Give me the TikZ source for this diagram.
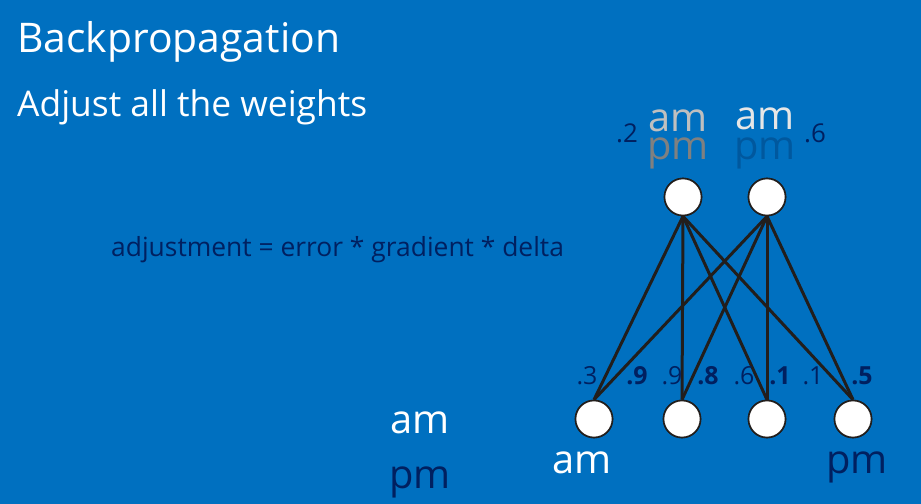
\documentclass[tikz,border=0pt]{standalone}
\usepackage{fontspec}
\setmainfont{Open Sans}
\usepackage{tikz}
\usetikzlibrary{positioning}
\definecolor{slideblue}{RGB}{0,112,192}
\definecolor{navy}{RGB}{0,32,96}
\definecolor{amgray}{RGB}{191,191,191}
\definecolor{pmgray}{RGB}{128,128,128}
\definecolor{amwhite}{RGB}{230,230,230}
\definecolor{pmblue}{RGB}{0,88,158}
\definecolor{edgegray}{RGB}{34,30,28}
\newcommand{\fsz}[1]{\fontsize{#1}{#1}\selectfont}

\begin{document}
\begin{tikzpicture}[
    x=1bp, y=-1bp,
    txt/.style={inner sep=0pt, anchor=base},
    neuron/.style={circle, draw=edgegray, line width=1.6bp, fill=white, minimum size=37bp, inner sep=0pt},
    wt/.style={txt, text=navy, font=\fsz{25}},
    wtb/.style={txt, text=navy, font=\fsz{25}\bfseries},
    ampm/.style={txt, font=\fsz{40}},
    link/.style={draw=edgegray, line width=3bp}
]
    \fill[slideblue] (0,0) rectangle (921,504);
    \useasboundingbox (0,0) rectangle (921,504);

    % headings
    \node (title) [txt, anchor=base west, text=white, font=\fsz{41}] at (17,53) {Backpropagation};
    \node (sub) [txt, anchor=base west, text=white, font=\fsz{35.5}] at (17,117) {Adjust all the weights};
    \node (rule) [txt, anchor=base west, text=navy, font=\fsz{26.5}] at (111,257) {adjustment = error * gradient * delta};

    % output layer
    \node (t1) [neuron] at (683,197) {};
    \node (t2) [neuron] at (767,197) {};
    \node (am1) [ampm, text=amgray] at (678,132) {am};
    \node (pm1) [ampm, text=pmgray] at (678,160) {pm};
    \node (am2) [ampm, text=amwhite] at (765,130) {am};
    \node (pm2) [ampm, text=pmblue] at (765,160) {pm};
    \node (w1) [txt, text=navy, font=\fsz{26}] at (627,143) {.2};
    \node (w2) [txt, text=navy, font=\fsz{26}] at (815,143) {.6};

    % input layer
    \node (b1) [neuron] at (594,419) {};
    \node (b2) [neuron] at (682,419) {};
    \node (b3) [neuron] at (767,419) {};
    \node (b4) [neuron] at (853,419) {};

    \foreach \t in {t1,t2}
        \foreach \b in {b1,b2,b3,b4}
            \draw[link] (\t.south) -- (\b.north);
    \foreach \n in {t1,t2,b1,b2,b3,b4}
        \node[neuron] at (\n) {};

    \node (v1) [wt] at (587,384) {.3};
    \node (v2) [wtb] at (637,384) {.9};
    \node (v3) [wt] at (672,384) {.9};
    \node (v4) [wtb] at (708,384) {.8};
    \node (v5) [wt] at (744,384) {.6};
    \node (v6) [wtb] at (780,384) {.1};
    \node (v7) [wt] at (813,384) {.1};
    \node (v8) [wtb] at (862,384) {.5};

    \node (inam) [ampm, text=white] at (582,473) {am};
    \node (inpm) [ampm, text=navy] at (857,473) {pm};

    % legend
    \node (legam) [ampm, text=white] at (420,433) {am};
    \node (legpm) [ampm, text=navy] at (420,488) {pm};
\end{tikzpicture}
\end{document}
